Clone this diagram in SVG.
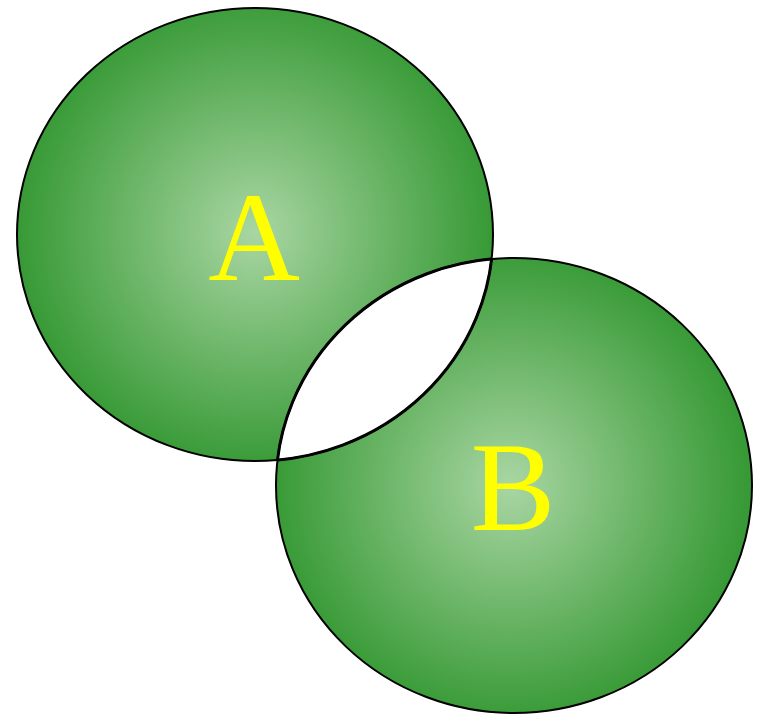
<svg xmlns="http://www.w3.org/2000/svg" width="757" height="715" viewBox="0 0 757 715">
  <style>
    .outline { fill: none; stroke: #000; stroke-width: 2; }
    .lens-outline { fill: none; stroke: #000; stroke-width: 3; }
    .label { font-family: "Liberation Serif", "Times New Roman", serif; font-size: 127px; fill: #ffff00; text-anchor: middle; }
  </style>
  <defs>
    <radialGradient id="gradA" gradientUnits="userSpaceOnUse" cx="255" cy="232" r="236">
      <stop offset="0" stop-color="#a9d6a3"/>
      <stop offset="1" stop-color="#389a36"/>
    </radialGradient>
    <radialGradient id="gradB" gradientUnits="userSpaceOnUse" cx="510" cy="485" r="236">
      <stop offset="0" stop-color="#a9d6a3"/>
      <stop offset="1" stop-color="#389a36"/>
    </radialGradient>
    <clipPath id="clipA">
      <ellipse cx="255" cy="234.5" rx="238" ry="226.5"/>
    </clipPath>
    <clipPath id="clipB">
      <ellipse cx="514" cy="485.5" rx="238" ry="227.5"/>
    </clipPath>
  </defs>
  <g id="nodeA">
    <ellipse cx="255" cy="234.5" rx="238" ry="226.5" fill="url(#gradA)"/>
  </g>
  <g id="nodeB">
    <ellipse cx="514" cy="485.5" rx="238" ry="227.5" fill="url(#gradB)"/>
  </g>
  <g id="intersection">
    <ellipse cx="255" cy="234.5" rx="238" ry="226.5" fill="#ffffff" clip-path="url(#clipB)"/>
  </g>
  <g id="outlines">
    <ellipse class="outline" cx="255" cy="234.5" rx="238" ry="226.5"/>
    <ellipse class="outline" cx="514" cy="485.5" rx="238" ry="227.5"/>
    <ellipse class="lens-outline" cx="255" cy="234.5" rx="238" ry="226.5" clip-path="url(#clipB)"/>
    <ellipse class="lens-outline" cx="514" cy="485.5" rx="238" ry="227.5" clip-path="url(#clipA)"/>
  </g>
  <g id="labels">
    <text class="label" x="254" y="280">A</text>
    <text class="label" x="513" y="530">B</text>
  </g>
</svg>
